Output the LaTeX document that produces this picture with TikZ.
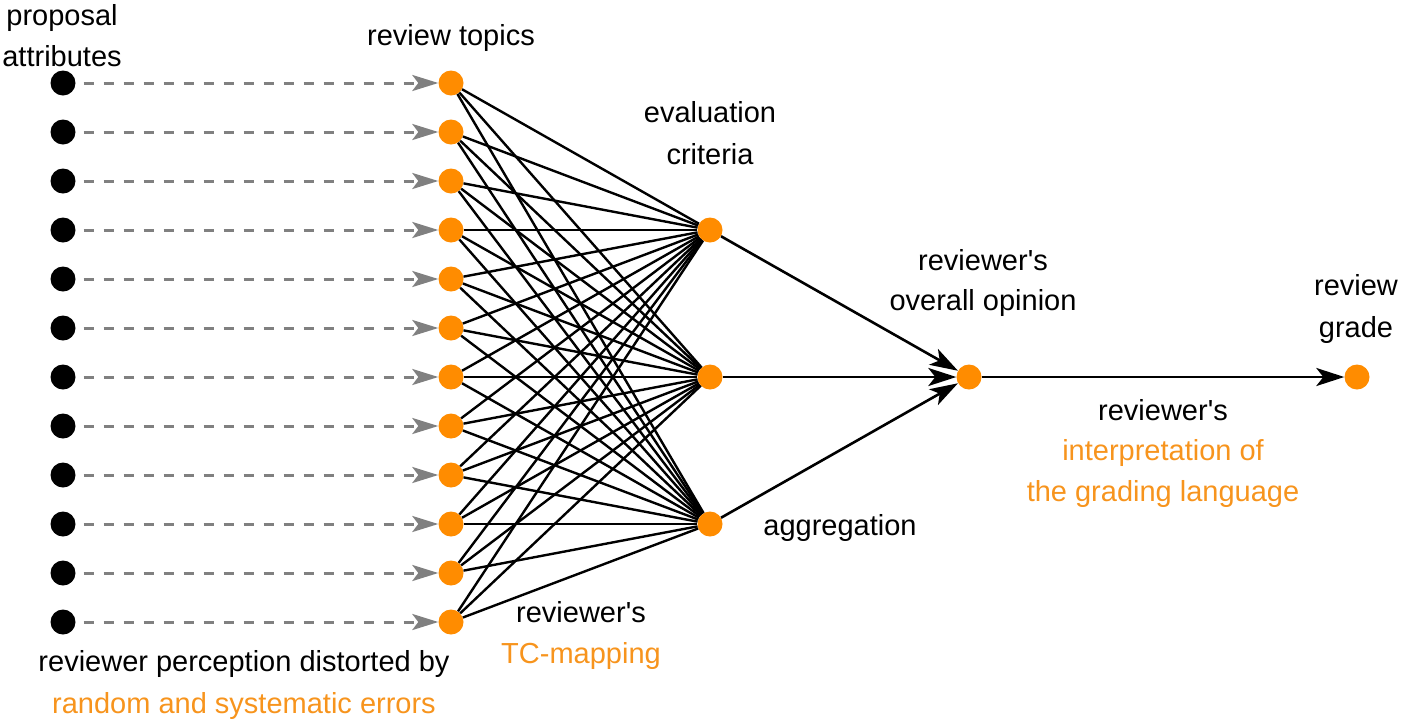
\documentclass[tikz,border=0pt]{standalone}
\usepackage{fontspec}
\setmainfont{Liberation Sans}[Ligatures=TeXOff]
\usetikzlibrary{arrows.meta}
\definecolor{dotorange}{HTML}{FF8C00}
\definecolor{txtorange}{HTML}{F7941D}
\definecolor{dashgrey}{HTML}{808080}
\begin{document}
\begin{tikzpicture}[x=1pt,y=1pt,
  odot/.style={circle,fill=dotorange,inner sep=0pt,minimum size=25pt},
  bdot/.style={circle,fill=black,inner sep=0pt,minimum size=25pt},
  lbl/.style={font=\fontsize{29}{35}\selectfont,anchor=base,inner sep=0pt},
  olbl/.style={lbl,text=txtorange},
  perc/.style={draw=dashgrey,line width=3pt,dash pattern=on 10pt off 10pt,shorten <=8pt,-{Stealth[length=26pt,width=16pt,inset=6pt]}},
  link/.style={draw=black,line width=2.4pt},
  agg/.style={draw=black,line width=2.6pt,-{Stealth[length=28pt,width=18pt,inset=7pt]}}]
\useasboundingbox (0,0) rectangle (1403,-724);
\foreach \i in {0,...,11}{
  \pgfmathsetmacro\yy{-83-49*\i}
  \node[bdot] (a\i) at (63,\yy) {};
  \node[odot] (t\i) at (451,\yy) {};
}
\node[odot] (c1) at (710,-230) {};
\node[odot] (c2) at (710,-377) {};
\node[odot] (c3) at (710,-524) {};
\node[odot] (op) at (969,-377) {};
\node[odot] (gr) at (1357,-377) {};
\foreach \i in {0,...,11}{
  \draw[perc] (a\i) -- (t\i);
  \foreach \c in {c1,c2,c3}{
    \draw[link] (t\i) -- (\c);
  }
}
\draw[agg] (c1) -- (op);
\draw[agg] (c2) -- (op);
\draw[agg] (c3) -- (op);
\draw[agg] (op) -- (gr);
% labels
\node[lbl] (l1a) at (62,-25) {proposal};
\node[lbl] (l1b) at (62,-66) {attributes};
\node[lbl] (l2) at (451,-45) {review topics};
\node[lbl] (l3a) at (710,-122) {evaluation};
\node[lbl] (l3b) at (710,-164) {criteria};
\node[lbl] (l4a) at (983,-270) {reviewer's};
\node[lbl] (l4b) at (983,-310) {overall opinion};
\node[lbl] (l5a) at (1356,-295) {review};
\node[lbl] (l5b) at (1356,-337) {grade};
\node[lbl] (l6a) at (1163,-420) {reviewer's};
\node[olbl] (l6b) at (1163,-460) {interpretation of};
\node[olbl] (l6c) at (1163,-501) {the grading language};
\node[lbl] (l7) at (840,-535) {aggregation};
\node[lbl] (l8a) at (581,-622) {reviewer's};
\node[olbl] (l8b) at (581,-663) {TC-mapping};
\node[lbl] (l9a) at (244,-671) {reviewer perception distorted by};
\node[olbl] (l9b) at (244,-713) {random and systematic errors};
\end{tikzpicture}
\end{document}
